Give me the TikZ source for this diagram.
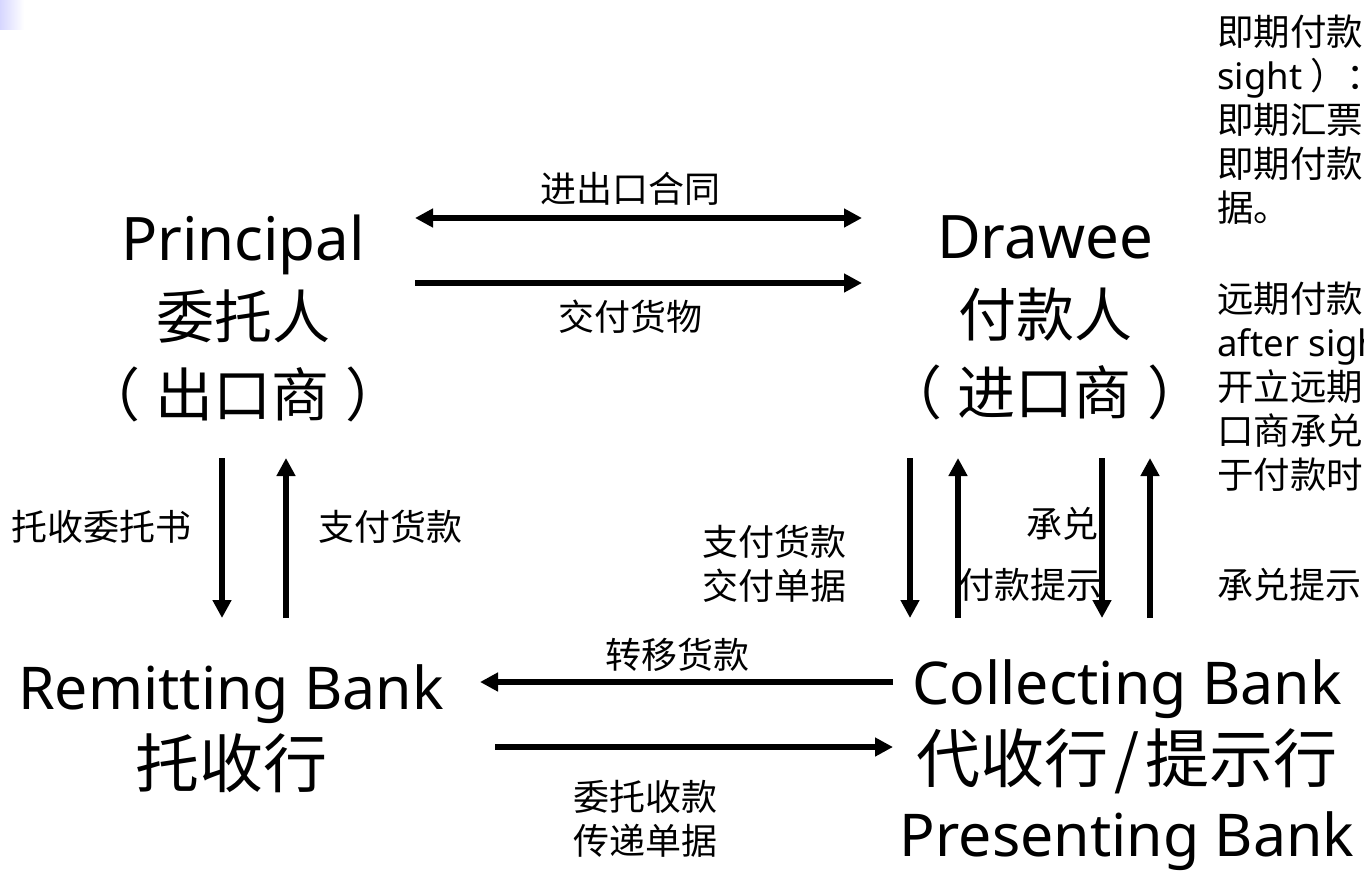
\documentclass[tikz,border=0pt]{standalone}
\usepackage{fontspec}
\setmainfont{Noto Sans}
\newfontfamily\cjk{Noto Sans CJK SC}
\usetikzlibrary{arrows.meta}
\newcommand{\latbig}{\fontsize{60}{78}\selectfont}
\newcommand{\cjkbig}{\cjk\fontsize{58}{78}\selectfont}
\newcommand{\latbank}{\fontsize{59}{78}\selectfont}
\newcommand{\cjkbank}{\cjk\fontsize{64}{78}\selectfont}
\begin{document}
\begin{tikzpicture}[x=1pt,y=-1pt,
  big/.style={font=\fontsize{60}{78}\selectfont, align=center, inner sep=0pt},
  lab/.style={font=\cjk\fontsize{36}{44}\selectfont, inner sep=0pt, align=center},
  side/.style={font=\cjk\fontsize{36.5}{44}\selectfont, inner sep=0pt, align=left, anchor=north west},
  arr/.style={line width=5.2pt, -{Triangle[length=18pt,width=18pt]}},
  darr/.style={line width=5.2pt, {Triangle[length=18pt,width=18pt]}-{Triangle[length=18pt,width=18pt]}}]
\useasboundingbox (0,0) rectangle (1364,873);
\clip (0,0) rectangle (1364,873);
\fill[white] (0,0) rectangle (1364,873);
\shade[left color=blue!16!white, right color=white] (0,0) rectangle (24,29);

% main parties
\node[big] (principal) at (243,318) {{\latbig Principal}\\{\cjkbig 委托人}\\{\cjkbig （\kern16pt 出口商\kern16pt ）}};
\node[big] (drawee) at (1045,318) {{\latbig Drawee}\\{\cjkbig 付款人}\\{\cjkbig （\kern16pt 进口商\kern16pt ）}};
\node[big] (remit) at (231,729) {{\latbank Remitting Bank}\\{\cjkbank 托收行}};
\node[big] (collect) at (1127,765) {{\latbank Collecting Bank}\\{\cjkbank 代收行\kern6pt/\kern6pt 提示行}\\[-4pt]{\latbank Presenting Bank}};

% arrow end coordinates
\coordinate (c1a) at (415,218); \coordinate (c1b) at (862,218);
\coordinate (g1a) at (415,283); \coordinate (g1b) at (862,283);
\coordinate (l1a) at (222,458); \coordinate (l1b) at (222,618);
\coordinate (l2a) at (286,618); \coordinate (l2b) at (286,458);
\coordinate (b1a) at (893,682); \coordinate (b1b) at (480,682);
\coordinate (b2a) at (495,747); \coordinate (b2b) at (893,747);
\coordinate (r1a) at (910,458); \coordinate (r1b) at (910,618);
\coordinate (r2a) at (958,618); \coordinate (r2b) at (958,458);
\coordinate (r3a) at (1102,458); \coordinate (r3b) at (1102,618);
\coordinate (r4a) at (1150,618); \coordinate (r4b) at (1150,458);

\draw[darr] (c1a) -- (c1b);
\draw[arr] (g1a) -- (g1b);
\draw[arr] (l1a) -- (l1b);
\draw[arr] (l2a) -- (l2b);
\draw[arr] (b1a) -- (b1b);
\draw[arr] (b2a) -- (b2b);
\draw[arr] (r1a) -- (r1b);
\draw[arr] (r2a) -- (r2b);
\draw[arr] (r3a) -- (r3b);
\draw[arr] (r4a) -- (r4b);

% labels
\node[lab] (contract) at (630,189) {进出口合同};
\node[lab] (goods) at (630,317) {交付货物};
\node[lab] (instr) at (101,527) {托收委托书};
\node[lab] (pay1) at (390,527) {支付货款};
\node[lab] (transfer) at (677,655) {转移货款};
\node[lab] (entrust) at (645,819) {委托收款\\传递单据};
\node[lab] (pay2) at (774,564) {支付货款\\交付单据};
\node[lab] (accept) at (1062,524) {承兑};
\node[lab] (presp) at (1030,585) {付款提示};
\node[lab] (presa) at (1289,585) {承兑提示};

% side notes (cut by the frame)
\node[side] (dp) at (1217,15) {即期付款\\{\fontspec{Noto Sans}sight}\kern8pt）：\\即期汇票\\即期付款\\据。};
\node[side] (da) at (1217,282) {远期付款\\{\fontspec{Noto Sans}after sigh}\\开立远期\\口商承兑\\于付款时};
\end{tikzpicture}
\end{document}
